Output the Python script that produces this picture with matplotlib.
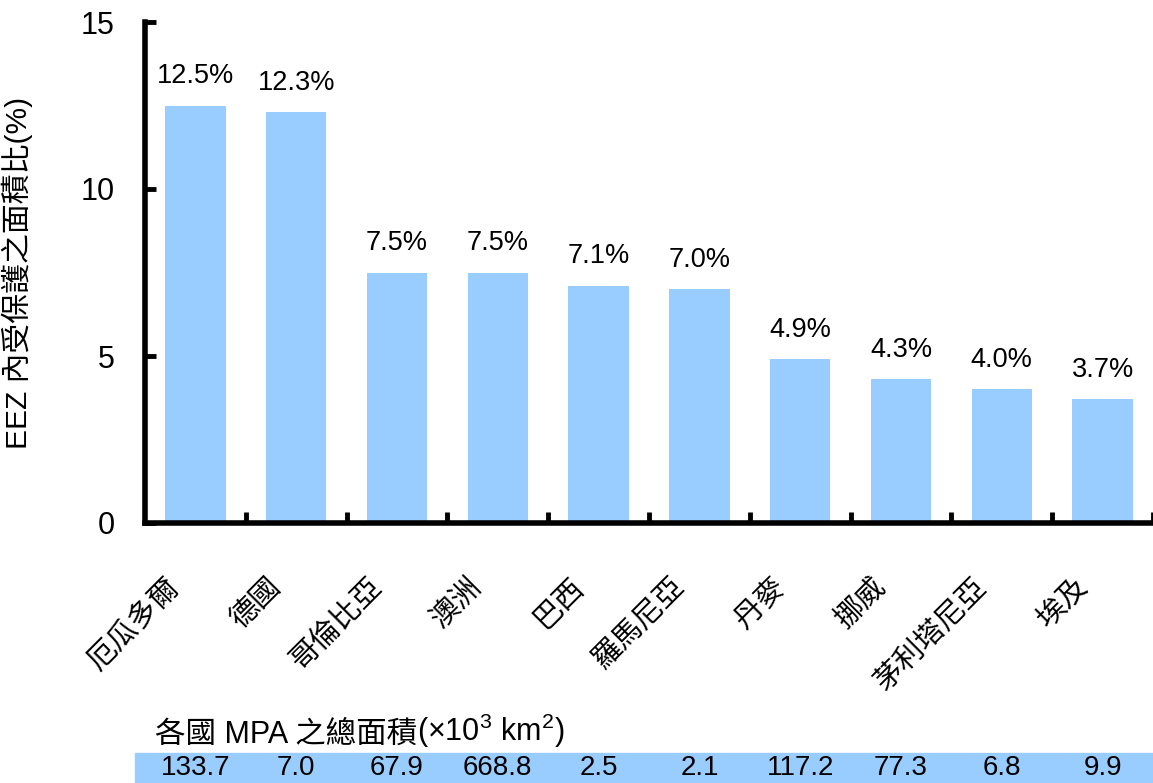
import matplotlib
matplotlib.use("Agg")
import matplotlib.pyplot as plt
import matplotlib.transforms as mtransforms
from matplotlib.patches import Rectangle

categories = ["厄瓜多爾", "德國", "哥倫比亞", "澳洲", "巴西", "羅馬尼亞", "丹麥", "挪威", "茅利塔尼亞", "埃及"]
protected_pct = [12.5, 12.3, 7.5, 7.5, 7.1, 7.0, 4.9, 4.3, 4.0, 3.7]
mpa_area = [133.7, 7.0, 67.9, 668.8, 2.5, 2.1, 117.2, 77.3, 6.8, 9.9]
yticks = [0, 5, 10, 15]

LAT = ["Liberation Sans", "Noto Sans CJK TC", "DejaVu Sans"]
CJK = ["Noto Sans CJK TC", "Liberation Sans", "DejaVu Sans"]
plt.rcParams["font.family"] = LAT
plt.rcParams["mathtext.fontset"] = "custom"
plt.rcParams["mathtext.rm"] = "Liberation Sans"
plt.rcParams["mathtext.it"] = "Liberation Sans"

BAR = "#99CCFF"

fig = plt.figure(figsize=(11.53, 7.83), dpi=100)
ax = fig.add_axes([145 / 1153, 260 / 783, 1008 / 1153, 501 / 783])

x = list(range(len(categories)))
ax.bar(x, protected_pct, width=0.6, color=BAR, zorder=2)
for xi, v in zip(x, protected_pct):
    ax.annotate(f"{v:.1f}%", (xi, v), xytext=(0, 12), textcoords="offset points",
                ha="center", va="bottom", fontsize=19.5, family=LAT)

ax.set_xlim(-0.5, 9.5)
ax.set_ylim(0, 15)
ax.set_yticks(yticks)
ax.set_yticklabels([str(t) for t in yticks], fontsize=22)
ax.tick_params(axis="y", direction="in", length=8, width=3.5, pad=22)

ax.set_xticks(x)
ax.set_xticklabels([])
ax.tick_params(axis="x", which="major", length=0)
ax.set_xticks([i + 0.5 for i in x], minor=True)
ax.tick_params(axis="x", which="minor", direction="in", length=8, width=3.5)

for s in ["top", "right"]:
    ax.spines[s].set_visible(False)
for s in ["left", "bottom"]:
    ax.spines[s].set_linewidth(4)
    ax.spines[s].set_capstyle("projecting")

# rotated category labels
trans_lab = mtransforms.blended_transform_factory(ax.transData, fig.transFigure)
for xi, c in zip(x, categories):
    ax.text(xi - 0.3, 1 - 572 / 783, c, transform=trans_lab, rotation=45,
            rotation_mode="anchor", ha="right", va="top", fontsize=21, family=CJK)

ax.set_ylabel("EEZ 內受保護之面積比(%)", fontsize=21.5, family=LAT, labelpad=34)

# MPA table
fig.add_artist(Rectangle((135 / 1153, 0), 1 - 135 / 1153, 30 / 783,
                         transform=fig.transFigure, color=BAR, zorder=-1))
t1 = fig.text(155 / 1153, 1 - 743 / 783, "各國 MPA 之總面積", fontsize=22,
              family=LAT, ha="left", va="baseline", zorder=3)
ax.annotate(r"$\mathregular{(\times10^3\ km^2)}$", xy=(1, 0), xycoords=t1,
            xytext=(0, 0), textcoords="offset points", ha="left", va="bottom",
            fontsize=22, annotation_clip=False)
for xi, v in zip(x, mpa_area):
    ax.text(xi, 1 - 768 / 783, f"{v:.1f}", transform=trans_lab, ha="center",
            va="center", fontsize=20, family=LAT, clip_on=False, zorder=3)

fig.savefig("out.png", dpi=100)
